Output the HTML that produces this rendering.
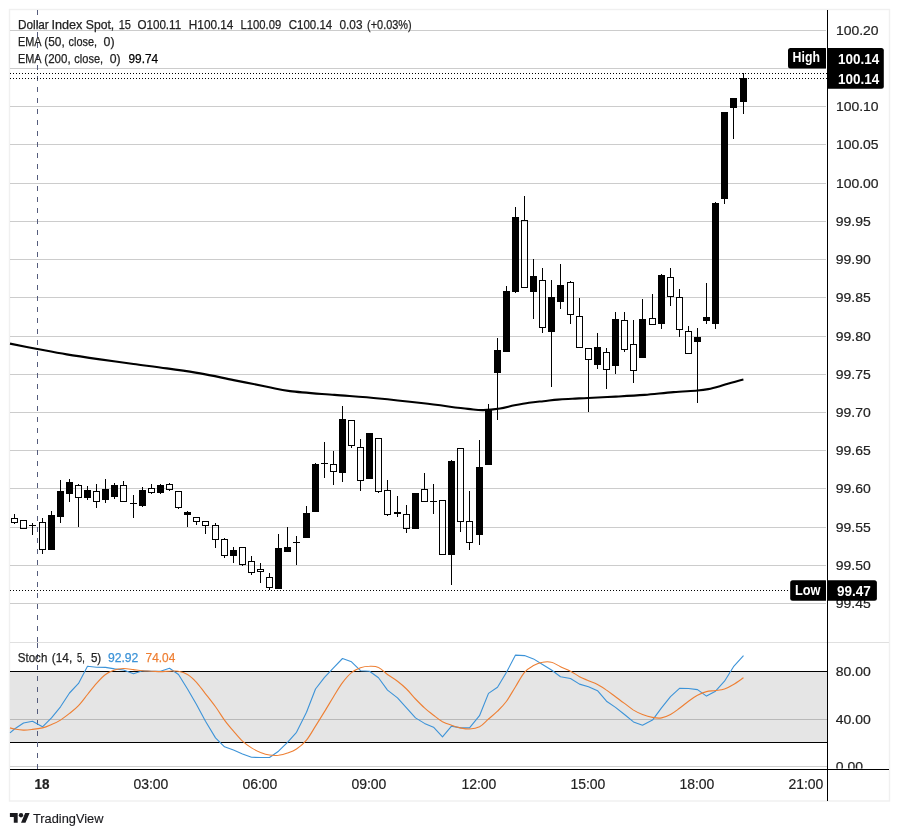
<!DOCTYPE html>
<html lang="en"><head><meta charset="utf-8"><title>Dollar Index Spot, 15 - TradingView</title>
<style>
html,body{margin:0;padding:0;background:#fff;}
body{width:899px;height:836px;overflow:hidden;}
svg{display:block;}
text{font-family:"Liberation Sans", Arial, sans-serif;}
.ax{font-size:13.5px;fill:#222222;stroke:#222222;stroke-width:0.2px;}
.lg{font-size:13px;fill:#222222;stroke:#222222;stroke-width:0.25px;}
.lb{font-size:14px;font-weight:bold;fill:#fff;}
.cr{shape-rendering:crispEdges;}
</style></head><body>
<svg width="899" height="836" viewBox="0 0 899 836">
<rect x="0" y="0" width="899" height="836" fill="#fff"/>
<rect x="9.5" y="9.5" width="880" height="791.5" fill="#fff" stroke="#f0f0f0" stroke-width="1.4"/>
<rect class="cr" x="10" y="30" width="816" height="1" fill="#cccccc"/>
<rect class="cr" x="10" y="68" width="816" height="1" fill="#cccccc"/>
<rect class="cr" x="10" y="106" width="816" height="1" fill="#cccccc"/>
<rect class="cr" x="10" y="144" width="816" height="1" fill="#cccccc"/>
<rect class="cr" x="10" y="183" width="816" height="1" fill="#cccccc"/>
<rect class="cr" x="10" y="221" width="816" height="1" fill="#cccccc"/>
<rect class="cr" x="10" y="259" width="816" height="1" fill="#cccccc"/>
<rect class="cr" x="10" y="297" width="816" height="1" fill="#cccccc"/>
<rect class="cr" x="10" y="336" width="816" height="1" fill="#cccccc"/>
<rect class="cr" x="10" y="374" width="816" height="1" fill="#cccccc"/>
<rect class="cr" x="10" y="412" width="816" height="1" fill="#cccccc"/>
<rect class="cr" x="10" y="450" width="816" height="1" fill="#cccccc"/>
<rect class="cr" x="10" y="488" width="816" height="1" fill="#cccccc"/>
<rect class="cr" x="10" y="527" width="816" height="1" fill="#cccccc"/>
<rect class="cr" x="10" y="565" width="816" height="1" fill="#cccccc"/>
<rect class="cr" x="10" y="603" width="816" height="1" fill="#cccccc"/>
<rect class="cr" x="10" y="642" width="879" height="1" fill="#e0e0e0"/>
<rect class="cr" x="10" y="672" width="817" height="70" fill="#e5e5e5"/>
<rect class="cr" x="10" y="719" width="817" height="1" fill="#b9b9b9"/>
<rect class="cr" x="10" y="766" width="817" height="1" fill="#cfcfcf"/>
<rect class="cr" x="10" y="671" width="817" height="1" fill="#000"/>
<rect class="cr" x="10" y="742" width="817" height="1" fill="#000"/>
<line class="cr" x1="37.5" y1="10" x2="37.5" y2="642" stroke="#555c7c" stroke-width="1" stroke-dasharray="5 6"/>
<line class="cr" x1="37.5" y1="643" x2="37.5" y2="769" stroke="#555c7c" stroke-width="1" stroke-dasharray="5 6"/>
<line class="cr" x1="10" y1="73.5" x2="827" y2="73.5" stroke="#000" stroke-width="1" stroke-dasharray="1 2"/>
<line class="cr" x1="10" y1="78.5" x2="827" y2="78.5" stroke="#000" stroke-width="1" stroke-dasharray="1 2"/>
<line class="cr" x1="10" y1="590.5" x2="790" y2="590.5" stroke="#000" stroke-width="1" stroke-dasharray="1 2"/>
<path fill="none" stroke="#000" stroke-width="2.1" stroke-linejoin="round" stroke-linecap="butt" d="M10.0 343.6 C14.6 344.5 27.9 347.2 37.4 349.0 C46.9 350.8 56.2 352.7 66.7 354.4 C77.2 356.1 89.0 357.8 100.1 359.4 C111.2 361.0 122.4 362.5 133.5 364.0 C144.6 365.5 155.7 366.8 166.8 368.4 C177.9 370.0 189.1 371.4 200.2 373.4 C211.3 375.3 222.5 377.9 233.6 380.1 C244.7 382.3 257.5 384.9 266.9 386.7 C276.3 388.5 278.7 389.7 290.0 391.1 C301.3 392.5 319.7 393.7 334.5 394.9 C349.3 396.1 364.2 397.1 379.0 398.5 C393.8 399.9 408.7 401.6 423.5 403.3 C438.3 405.0 458.0 407.8 468.0 408.9 C478.0 410.0 478.0 410.2 483.3 410.1 C488.6 410.0 494.8 409.3 500.0 408.5 C505.2 407.7 509.7 406.2 514.5 405.3 C519.3 404.4 524.1 403.5 528.9 402.8 C533.7 402.1 538.6 401.7 543.4 401.2 C548.2 400.7 553.0 400.0 557.8 399.6 C562.6 399.2 567.2 399.0 572.3 398.7 C577.4 398.4 581.0 398.4 588.2 398.0 C595.4 397.6 606.3 397.1 615.7 396.6 C625.1 396.1 635.0 395.6 644.6 394.9 C654.2 394.1 664.7 392.8 673.5 392.1 C682.3 391.4 691.7 391.0 697.5 390.5 C703.3 390.0 704.5 389.8 708.2 389.1 C711.9 388.4 715.9 387.3 719.8 386.2 C723.6 385.1 727.4 383.8 731.3 382.7 C735.2 381.6 741.4 379.9 743.4 379.4"/>
<g class="cr" fill="#000">
<rect x="14" y="514" width="1" height="4"/>
<rect x="14" y="523" width="1" height="1"/>
<rect x="11.5" y="518.5" width="6" height="4" fill="none" stroke="#000" stroke-width="1"/>
<rect x="20.5" y="520.5" width="6" height="8" fill="none" stroke="#000" stroke-width="1"/>
<rect x="32" y="523" width="1" height="12"/>
<rect x="29" y="525" width="7" height="1"/>
<rect x="42" y="518" width="1" height="4"/>
<rect x="42" y="550" width="1" height="4"/>
<rect x="39.5" y="522.5" width="6" height="27" fill="none" stroke="#000" stroke-width="1"/>
<rect x="51" y="511" width="1" height="39"/>
<rect x="48" y="515" width="7" height="35"/>
<rect x="60" y="480" width="1" height="43"/>
<rect x="57" y="491" width="7" height="26"/>
<rect x="69" y="479" width="1" height="23"/>
<rect x="66" y="482" width="7" height="12"/>
<rect x="78" y="484" width="1" height="1"/>
<rect x="78" y="498" width="1" height="29"/>
<rect x="75.5" y="485.5" width="6" height="12" fill="none" stroke="#000" stroke-width="1"/>
<rect x="87" y="486" width="1" height="14"/>
<rect x="84" y="490" width="7" height="8"/>
<rect x="96" y="484" width="1" height="7"/>
<rect x="96" y="502" width="1" height="6"/>
<rect x="93.5" y="491.5" width="6" height="10" fill="none" stroke="#000" stroke-width="1"/>
<rect x="105" y="479" width="1" height="24"/>
<rect x="102" y="489" width="7" height="11"/>
<rect x="114" y="483" width="1" height="16"/>
<rect x="111" y="485" width="7" height="12"/>
<rect x="123" y="481" width="1" height="4"/>
<rect x="120.5" y="485.5" width="6" height="16" fill="none" stroke="#000" stroke-width="1"/>
<rect x="133" y="495" width="1" height="23"/>
<rect x="130" y="503" width="7" height="1"/>
<rect x="142" y="487" width="1" height="20"/>
<rect x="139" y="490" width="7" height="16"/>
<rect x="151" y="484" width="1" height="4"/>
<rect x="151" y="493" width="1" height="1"/>
<rect x="148.5" y="488.5" width="6" height="4" fill="none" stroke="#000" stroke-width="1"/>
<rect x="160" y="484" width="1" height="10"/>
<rect x="157" y="485" width="7" height="8"/>
<rect x="169" y="483" width="1" height="1"/>
<rect x="169" y="490" width="1" height="1"/>
<rect x="166.5" y="484.5" width="6" height="5" fill="none" stroke="#000" stroke-width="1"/>
<rect x="178" y="508" width="1" height="1"/>
<rect x="175.5" y="491.5" width="6" height="16" fill="none" stroke="#000" stroke-width="1"/>
<rect x="187" y="511" width="1" height="16"/>
<rect x="184" y="512" width="7" height="3"/>
<rect x="196" y="522" width="1" height="3"/>
<rect x="193.5" y="517.5" width="6" height="4" fill="none" stroke="#000" stroke-width="1"/>
<rect x="205" y="526" width="1" height="8"/>
<rect x="202.5" y="521.5" width="6" height="4" fill="none" stroke="#000" stroke-width="1"/>
<rect x="215" y="523" width="1" height="2"/>
<rect x="215" y="540" width="1" height="8"/>
<rect x="212.5" y="525.5" width="6" height="14" fill="none" stroke="#000" stroke-width="1"/>
<rect x="224" y="538" width="1" height="1"/>
<rect x="224" y="556" width="1" height="2"/>
<rect x="221.5" y="539.5" width="6" height="16" fill="none" stroke="#000" stroke-width="1"/>
<rect x="233" y="547" width="1" height="16"/>
<rect x="230" y="550" width="7" height="6"/>
<rect x="242" y="565" width="1" height="1"/>
<rect x="239.5" y="547.5" width="6" height="17" fill="none" stroke="#000" stroke-width="1"/>
<rect x="251" y="556" width="1" height="5"/>
<rect x="251" y="573" width="1" height="2"/>
<rect x="248.5" y="561.5" width="6" height="11" fill="none" stroke="#000" stroke-width="1"/>
<rect x="260" y="563" width="1" height="6"/>
<rect x="260" y="572" width="1" height="11"/>
<rect x="257.5" y="569.5" width="6" height="2" fill="none" stroke="#000" stroke-width="1"/>
<rect x="269" y="573" width="1" height="4"/>
<rect x="269" y="588" width="1" height="2"/>
<rect x="266.5" y="577.5" width="6" height="10" fill="none" stroke="#000" stroke-width="1"/>
<rect x="278" y="534" width="1" height="55"/>
<rect x="275" y="548" width="7" height="41"/>
<rect x="287" y="527" width="1" height="25"/>
<rect x="284" y="547" width="7" height="5"/>
<rect x="296" y="536" width="1" height="29"/>
<rect x="293" y="542" width="7" height="1"/>
<rect x="306" y="506" width="1" height="32"/>
<rect x="303" y="513" width="7" height="25"/>
<rect x="315" y="463" width="1" height="49"/>
<rect x="312" y="464" width="7" height="48"/>
<rect x="324" y="442" width="1" height="36"/>
<rect x="321" y="463" width="7" height="1"/>
<rect x="333" y="451" width="1" height="13"/>
<rect x="333" y="472" width="1" height="13"/>
<rect x="330.5" y="464.5" width="6" height="7" fill="none" stroke="#000" stroke-width="1"/>
<rect x="342" y="406" width="1" height="76"/>
<rect x="339" y="419" width="7" height="54"/>
<rect x="351" y="446" width="1" height="2"/>
<rect x="348.5" y="420.5" width="6" height="25" fill="none" stroke="#000" stroke-width="1"/>
<rect x="360" y="439" width="1" height="8"/>
<rect x="360" y="481" width="1" height="10"/>
<rect x="357.5" y="447.5" width="6" height="33" fill="none" stroke="#000" stroke-width="1"/>
<rect x="369" y="433" width="1" height="46"/>
<rect x="366" y="433" width="7" height="46"/>
<rect x="378" y="492" width="1" height="1"/>
<rect x="375.5" y="438.5" width="6" height="53" fill="none" stroke="#000" stroke-width="1"/>
<rect x="387" y="480" width="1" height="10"/>
<rect x="387" y="515" width="1" height="1"/>
<rect x="384.5" y="490.5" width="6" height="24" fill="none" stroke="#000" stroke-width="1"/>
<rect x="397" y="496" width="1" height="21"/>
<rect x="394" y="512" width="7" height="2"/>
<rect x="406" y="505" width="1" height="9"/>
<rect x="406" y="529" width="1" height="4"/>
<rect x="403.5" y="514.5" width="6" height="14" fill="none" stroke="#000" stroke-width="1"/>
<rect x="415" y="493" width="1" height="36"/>
<rect x="412" y="493" width="7" height="36"/>
<rect x="424" y="473" width="1" height="16"/>
<rect x="421.5" y="489.5" width="6" height="12" fill="none" stroke="#000" stroke-width="1"/>
<rect x="433" y="484" width="1" height="30"/>
<rect x="430" y="501" width="7" height="1"/>
<rect x="439.5" y="500.5" width="6" height="54" fill="none" stroke="#000" stroke-width="1"/>
<rect x="451" y="460" width="1" height="125"/>
<rect x="448" y="461" width="7" height="94"/>
<rect x="460" y="522" width="1" height="10"/>
<rect x="457.5" y="448.5" width="6" height="73" fill="none" stroke="#000" stroke-width="1"/>
<rect x="469" y="491" width="1" height="30"/>
<rect x="469" y="543" width="1" height="7"/>
<rect x="466.5" y="521.5" width="6" height="21" fill="none" stroke="#000" stroke-width="1"/>
<rect x="479" y="440" width="1" height="105"/>
<rect x="476" y="467" width="7" height="68"/>
<rect x="488" y="404" width="1" height="61"/>
<rect x="485" y="410" width="7" height="55"/>
<rect x="497" y="338" width="1" height="82"/>
<rect x="494" y="350" width="7" height="23"/>
<rect x="506" y="286" width="1" height="66"/>
<rect x="503" y="291" width="7" height="61"/>
<rect x="515" y="207" width="1" height="86"/>
<rect x="512" y="217" width="7" height="75"/>
<rect x="524" y="196" width="1" height="24"/>
<rect x="521.5" y="220.5" width="6" height="67" fill="none" stroke="#000" stroke-width="1"/>
<rect x="533" y="259" width="1" height="60"/>
<rect x="530" y="276" width="7" height="16"/>
<rect x="542" y="268" width="1" height="12"/>
<rect x="542" y="328" width="1" height="5"/>
<rect x="539.5" y="280.5" width="6" height="47" fill="none" stroke="#000" stroke-width="1"/>
<rect x="551" y="280" width="1" height="107"/>
<rect x="548" y="297" width="7" height="35"/>
<rect x="560" y="264" width="1" height="45"/>
<rect x="557" y="285" width="7" height="17"/>
<rect x="570" y="281" width="1" height="1"/>
<rect x="570" y="315" width="1" height="9"/>
<rect x="567.5" y="282.5" width="6" height="32" fill="none" stroke="#000" stroke-width="1"/>
<rect x="579" y="298" width="1" height="18"/>
<rect x="576.5" y="316.5" width="6" height="31" fill="none" stroke="#000" stroke-width="1"/>
<rect x="588" y="360" width="1" height="52"/>
<rect x="585.5" y="348.5" width="6" height="11" fill="none" stroke="#000" stroke-width="1"/>
<rect x="597" y="333" width="1" height="36"/>
<rect x="594" y="347" width="7" height="18"/>
<rect x="606" y="348" width="1" height="4"/>
<rect x="606" y="370" width="1" height="19"/>
<rect x="603.5" y="352.5" width="6" height="17" fill="none" stroke="#000" stroke-width="1"/>
<rect x="615" y="312" width="1" height="62"/>
<rect x="612" y="319" width="7" height="47"/>
<rect x="624" y="312" width="1" height="8"/>
<rect x="624" y="350" width="1" height="2"/>
<rect x="621.5" y="320.5" width="6" height="29" fill="none" stroke="#000" stroke-width="1"/>
<rect x="633" y="320" width="1" height="24"/>
<rect x="633" y="371" width="1" height="12"/>
<rect x="630.5" y="344.5" width="6" height="26" fill="none" stroke="#000" stroke-width="1"/>
<rect x="642" y="299" width="1" height="59"/>
<rect x="639" y="319" width="7" height="39"/>
<rect x="652" y="294" width="1" height="24"/>
<rect x="649.5" y="318.5" width="6" height="6" fill="none" stroke="#000" stroke-width="1"/>
<rect x="661" y="274" width="1" height="55"/>
<rect x="658" y="275" width="7" height="49"/>
<rect x="670" y="268" width="1" height="9"/>
<rect x="670" y="297" width="1" height="9"/>
<rect x="667.5" y="277.5" width="6" height="19" fill="none" stroke="#000" stroke-width="1"/>
<rect x="679" y="289" width="1" height="8"/>
<rect x="679" y="330" width="1" height="7"/>
<rect x="676.5" y="297.5" width="6" height="32" fill="none" stroke="#000" stroke-width="1"/>
<rect x="688" y="326" width="1" height="5"/>
<rect x="685.5" y="331.5" width="6" height="22" fill="none" stroke="#000" stroke-width="1"/>
<rect x="697" y="328" width="1" height="75"/>
<rect x="694" y="337" width="7" height="5"/>
<rect x="706" y="283" width="1" height="41"/>
<rect x="703" y="317" width="7" height="4"/>
<rect x="715" y="202" width="1" height="127"/>
<rect x="712" y="203" width="7" height="121"/>
<rect x="724" y="112" width="1" height="92"/>
<rect x="721" y="112" width="7" height="87"/>
<rect x="733" y="98" width="1" height="41"/>
<rect x="730" y="98" width="7" height="10"/>
<rect x="743" y="73" width="1" height="41"/>
<rect x="740" y="78" width="7" height="24"/>
</g>
<polyline fill="none" stroke="#3c93d8" stroke-width="1.1" stroke-linejoin="round" points="10.0,732.8 14.5,729.0 23.5,723.0 32.5,721.2 42.5,726.8 51.5,717.9 60.5,706.8 69.5,693.0 78.5,683.4 87.5,666.3 96.5,667.2 105.5,667.4 114.5,668.9 123.5,670.0 133.5,673.8 142.5,670.7 151.5,671.2 160.5,671.2 169.5,668.3 178.5,674.5 187.5,689.0 196.5,704.5 205.5,721.2 215.5,737.9 224.5,746.8 233.5,750.1 242.5,753.9 251.5,757.3 260.5,757.5 269.5,757.5 278.5,751.2 287.5,742.3 296.5,732.3 306.5,712.3 315.5,689.0 324.5,677.4 333.5,667.8 342.5,658.5 351.5,661.8 360.5,670.7 369.5,671.2 378.5,677.8 387.5,690.1 397.5,697.9 406.5,707.9 415.5,717.9 424.5,723.4 433.5,727.2 442.5,736.8 451.5,726.1 460.5,727.9 469.5,727.9 479.5,715.7 488.5,693.4 497.5,687.2 506.5,672.3 515.5,655.1 524.5,655.6 533.5,658.9 542.5,664.5 551.5,670.0 560.5,676.7 570.5,678.5 579.5,684.1 588.5,686.7 597.5,690.7 606.5,701.2 615.5,707.4 624.5,714.5 633.5,721.9 642.5,725.2 652.5,720.1 661.5,707.9 670.5,696.7 679.5,688.3 688.5,688.5 697.5,689.6 706.5,696.1 715.5,691.2 724.5,681.2 733.5,666.7 743.5,655.6"/>
<path fill="none" stroke="#ee7f33" stroke-width="1.1" stroke-linejoin="round" d="M10.0 727.9 C10.8 728.1 12.2 728.6 14.5 729.0 C16.8 729.4 20.5 730.0 23.5 730.1 C26.5 730.2 29.3 729.8 32.5 729.4 C35.7 729.1 39.3 728.7 42.5 727.9 C45.7 727.1 48.5 725.8 51.5 724.5 C54.5 723.3 57.5 722.0 60.5 720.1 C63.5 718.2 66.5 715.8 69.5 713.4 C72.5 711.0 75.5 708.8 78.5 705.6 C81.5 702.5 84.5 698.2 87.5 694.5 C90.5 690.8 93.5 686.7 96.5 683.4 C99.5 680.1 102.5 676.7 105.5 674.5 C108.5 672.3 111.5 671.0 114.5 670.0 C117.5 669.0 120.3 668.6 123.5 668.5 C126.7 668.4 130.3 669.2 133.5 669.6 C136.7 670.0 139.5 670.5 142.5 670.7 C145.5 671.0 148.5 671.0 151.5 671.2 C154.5 671.3 157.5 671.6 160.5 671.6 C163.5 671.6 166.5 671.2 169.5 671.2 C172.5 671.1 175.5 670.6 178.5 671.2 C181.5 671.7 184.5 672.6 187.5 674.5 C190.5 676.3 193.5 679.1 196.5 682.3 C199.5 685.5 202.3 689.8 205.5 693.8 C208.7 697.9 212.3 702.4 215.5 706.8 C218.7 711.1 221.5 716.0 224.5 720.1 C227.5 724.2 230.5 727.7 233.5 731.2 C236.5 734.7 239.5 738.5 242.5 741.2 C245.5 744.0 248.5 746.1 251.5 747.9 C254.5 749.8 257.5 751.2 260.5 752.4 C263.5 753.5 266.5 754.5 269.5 755.0 C272.5 755.5 275.5 755.6 278.5 755.3 C281.5 754.9 284.5 754.1 287.5 753.0 C290.5 752.0 293.3 751.2 296.5 749.0 C299.7 746.9 303.3 743.9 306.5 740.1 C309.7 736.3 312.5 730.9 315.5 726.1 C318.5 721.4 321.5 716.5 324.5 711.6 C327.5 706.8 330.5 701.6 333.5 696.7 C336.5 691.9 339.5 686.7 342.5 682.7 C345.5 678.7 348.5 675.2 351.5 672.7 C354.5 670.2 357.5 668.9 360.5 667.8 C363.5 666.7 366.5 666.3 369.5 666.3 C372.5 666.2 375.5 666.0 378.5 667.4 C381.5 668.7 384.3 672.2 387.5 674.5 C390.7 676.8 394.3 678.8 397.5 681.2 C400.7 683.6 403.5 686.0 406.5 689.0 C409.5 691.9 412.5 695.8 415.5 699.0 C418.5 702.1 421.5 705.2 424.5 707.9 C427.5 710.6 430.5 712.9 433.5 715.2 C436.5 717.5 439.5 720.0 442.5 721.7 C445.5 723.3 448.5 724.2 451.5 725.2 C454.5 726.3 457.5 727.3 460.5 727.9 C463.5 728.5 466.3 729.2 469.5 729.0 C472.7 728.8 476.3 728.4 479.5 726.8 C482.7 725.1 485.5 721.6 488.5 719.0 C491.5 716.4 494.5 714.2 497.5 711.2 C500.5 708.2 503.5 705.3 506.5 701.2 C509.5 697.1 512.5 691.5 515.5 686.7 C518.5 681.9 521.5 675.8 524.5 672.3 C527.5 668.7 530.5 667.3 533.5 665.6 C536.5 663.9 539.5 662.8 542.5 662.3 C545.5 661.7 548.5 661.5 551.5 662.3 C554.5 663.0 557.3 665.2 560.5 666.7 C563.7 668.2 567.3 669.5 570.5 671.2 C573.7 672.8 576.5 675.1 579.5 676.7 C582.5 678.3 585.5 679.4 588.5 680.7 C591.5 682.0 594.5 682.9 597.5 684.5 C600.5 686.1 603.5 688.0 606.5 690.1 C609.5 692.1 612.5 694.5 615.5 696.7 C618.5 699.0 621.5 701.2 624.5 703.4 C627.5 705.6 630.5 708.2 633.5 710.1 C636.5 711.9 639.3 713.3 642.5 714.5 C645.7 715.8 649.3 716.9 652.5 717.4 C655.7 718.0 658.5 718.4 661.5 717.9 C664.5 717.4 667.5 716.1 670.5 714.5 C673.5 712.9 676.5 710.5 679.5 708.3 C682.5 706.1 685.5 703.4 688.5 701.2 C691.5 699.0 694.5 696.8 697.5 695.2 C700.5 693.6 703.5 692.4 706.5 691.6 C709.5 690.8 712.5 691.0 715.5 690.5 C718.5 690.1 721.5 690.0 724.5 689.0 C727.5 688.0 730.3 686.4 733.5 684.5 C736.7 682.7 741.8 678.9 743.5 677.8"/>
<text x="836.0" y="35.0" class="ax" textLength="42.6" lengthAdjust="spacingAndGlyphs">100.20</text>
<text x="836.0" y="111.0" class="ax" textLength="42.6" lengthAdjust="spacingAndGlyphs">100.10</text>
<text x="836.0" y="149.0" class="ax" textLength="42.6" lengthAdjust="spacingAndGlyphs">100.05</text>
<text x="836.0" y="188.0" class="ax" textLength="42.6" lengthAdjust="spacingAndGlyphs">100.00</text>
<text x="835.8" y="226.0" class="ax" textLength="35.0" lengthAdjust="spacingAndGlyphs">99.95</text>
<text x="835.8" y="264.0" class="ax" textLength="35.0" lengthAdjust="spacingAndGlyphs">99.90</text>
<text x="835.8" y="302.0" class="ax" textLength="35.0" lengthAdjust="spacingAndGlyphs">99.85</text>
<text x="835.8" y="341.0" class="ax" textLength="35.0" lengthAdjust="spacingAndGlyphs">99.80</text>
<text x="835.8" y="379.0" class="ax" textLength="35.0" lengthAdjust="spacingAndGlyphs">99.75</text>
<text x="835.8" y="417.0" class="ax" textLength="35.0" lengthAdjust="spacingAndGlyphs">99.70</text>
<text x="835.8" y="455.0" class="ax" textLength="35.0" lengthAdjust="spacingAndGlyphs">99.65</text>
<text x="835.8" y="493.0" class="ax" textLength="35.0" lengthAdjust="spacingAndGlyphs">99.60</text>
<text x="835.8" y="532.0" class="ax" textLength="35.0" lengthAdjust="spacingAndGlyphs">99.55</text>
<text x="835.8" y="570.0" class="ax" textLength="35.0" lengthAdjust="spacingAndGlyphs">99.50</text>
<text x="835.8" y="608.0" class="ax" textLength="35.0" lengthAdjust="spacingAndGlyphs">99.45</text>
<text x="835.8" y="676.0" class="ax" textLength="35.0" lengthAdjust="spacingAndGlyphs">80.00</text>
<text x="835.8" y="724.0" class="ax" textLength="35.0" lengthAdjust="spacingAndGlyphs">40.00</text>
<clipPath id="c0"><rect x="827" y="750" width="62" height="18.4"/></clipPath>
<g clip-path="url(#c0)">
<text x="835.8" y="771.0" class="ax" textLength="27.2" lengthAdjust="spacingAndGlyphs">0.00</text>
</g>
<path fill="#000" d="M790.5 48.0 H825.5 Q826.0 48.0 826.0 48.5 V68.1 Q826.0 68.6 825.5 68.6 H790.5 Q788.0 68.6 788.0 66.1 V50.5 Q788.0 48.0 790.5 48.0 Z"/>
<path fill="#000" d="M827.0 48.0 H881.3 Q883.8 48.0 883.8 50.5 V86.2 Q883.8 88.7 881.3 88.7 H827.0 Q827.0 88.7 827.0 88.7 V48.0 Q827.0 48.0 827.0 48.0 Z"/>
<text x="792.6" y="62.0" class="lb" textLength="27.3" lengthAdjust="spacingAndGlyphs">High</text>
<text x="838.0" y="64.0" class="lb" textLength="41.2" lengthAdjust="spacingAndGlyphs">100.14</text>
<text x="838.0" y="84.0" class="lb" textLength="41.2" lengthAdjust="spacingAndGlyphs">100.14</text>
<path fill="#000" d="M792.7 580.2 H825.5 Q826.0 580.2 826.0 580.7 V600.3 Q826.0 600.8 825.5 600.8 H792.7 Q790.2 600.8 790.2 598.3 V582.7 Q790.2 580.2 792.7 580.2 Z"/>
<path fill="#000" d="M827.0 580.2 H874.4 Q876.9 580.2 876.9 582.7 V598.3 Q876.9 600.8 874.4 600.8 H827.0 Q827.0 600.8 827.0 600.8 V580.2 Q827.0 580.2 827.0 580.2 Z"/>
<text x="795.0" y="595.0" class="lb" textLength="25.5" lengthAdjust="spacingAndGlyphs">Low</text>
<text x="837.0" y="596.0" class="lb" textLength="33.9" lengthAdjust="spacingAndGlyphs">99.47</text>
<rect class="cr" x="827" y="10" width="1" height="791" fill="#000"/>
<rect class="cr" x="10" y="769" width="879" height="1" fill="#000"/>
<text x="41.9" y="789" class="ax" style="font-weight:bold;font-size:14.7px" text-anchor="middle" textLength="15.0" lengthAdjust="spacingAndGlyphs">18</text>
<text x="150.9" y="789" class="ax" style="font-size:14.7px" text-anchor="middle" textLength="35.0" lengthAdjust="spacingAndGlyphs">03:00</text>
<text x="259.9" y="789" class="ax" style="font-size:14.7px" text-anchor="middle" textLength="35.0" lengthAdjust="spacingAndGlyphs">06:00</text>
<text x="368.9" y="789" class="ax" style="font-size:14.7px" text-anchor="middle" textLength="35.0" lengthAdjust="spacingAndGlyphs">09:00</text>
<text x="478.9" y="789" class="ax" style="font-size:14.7px" text-anchor="middle" textLength="35.0" lengthAdjust="spacingAndGlyphs">12:00</text>
<text x="587.9" y="789" class="ax" style="font-size:14.7px" text-anchor="middle" textLength="35.0" lengthAdjust="spacingAndGlyphs">15:00</text>
<text x="696.9" y="789" class="ax" style="font-size:14.7px" text-anchor="middle" textLength="35.0" lengthAdjust="spacingAndGlyphs">18:00</text>
<text x="805.9" y="789" class="ax" style="font-size:14.7px" text-anchor="middle" textLength="35.0" lengthAdjust="spacingAndGlyphs">21:00</text>
<text y="29.0" class="lg"><tspan x="18.0" textLength="30.8" lengthAdjust="spacingAndGlyphs">Dollar</tspan> <tspan x="51.4" textLength="31.0" lengthAdjust="spacingAndGlyphs">Index</tspan> <tspan x="85.8" textLength="28.4" lengthAdjust="spacingAndGlyphs">Spot,</tspan> <tspan x="118.7" textLength="12.3" lengthAdjust="spacingAndGlyphs">15</tspan> <tspan x="137.4" textLength="43.8" lengthAdjust="spacingAndGlyphs">O100.11</tspan> <tspan x="188.8" textLength="44.6" lengthAdjust="spacingAndGlyphs">H100.14</tspan> <tspan x="240.5" textLength="40.7" lengthAdjust="spacingAndGlyphs">L100.09</tspan> <tspan x="288.8" textLength="43.4" lengthAdjust="spacingAndGlyphs">C100.14</tspan> <tspan x="339.5" textLength="23.0" lengthAdjust="spacingAndGlyphs">0.03</tspan> <tspan x="367.1" textLength="44.5" lengthAdjust="spacingAndGlyphs">(+0.03%)</tspan></text>
<text y="46.0" class="lg"><tspan x="17.9" textLength="23.0" lengthAdjust="spacingAndGlyphs">EMA</tspan> <tspan x="44.3" textLength="20.5" lengthAdjust="spacingAndGlyphs">(50,</tspan> <tspan x="68.5" textLength="28.5" lengthAdjust="spacingAndGlyphs">close,</tspan> <tspan x="103.5" textLength="11.0" lengthAdjust="spacingAndGlyphs">0)</tspan></text>
<text y="63.0" class="lg"><tspan x="17.9" textLength="23.0" lengthAdjust="spacingAndGlyphs">EMA</tspan> <tspan x="44.3" textLength="26.3" lengthAdjust="spacingAndGlyphs">(200,</tspan> <tspan x="74.3" textLength="28.8" lengthAdjust="spacingAndGlyphs">close,</tspan> <tspan x="109.8" textLength="10.9" lengthAdjust="spacingAndGlyphs">0)</tspan> <tspan x="128.5" textLength="29.7" lengthAdjust="spacingAndGlyphs" style="fill:#000;stroke:#000">99.74</tspan></text>
<text y="662.0" class="lg"><tspan x="17.8" textLength="29.5" lengthAdjust="spacingAndGlyphs">Stoch</tspan> <tspan x="51.8" textLength="20.4" lengthAdjust="spacingAndGlyphs">(14,</tspan> <tspan x="77.1" textLength="7.7" lengthAdjust="spacingAndGlyphs">5,</tspan> <tspan x="90.9" textLength="10.3" lengthAdjust="spacingAndGlyphs">5)</tspan> <tspan x="107.9" textLength="30.5" lengthAdjust="spacingAndGlyphs" style="fill:#3c93d8;stroke:#3c93d8">92.92</tspan> <tspan x="145.6" textLength="29.7" lengthAdjust="spacingAndGlyphs" style="fill:#ee7f33;stroke:#ee7f33">74.04</tspan></text>
<g transform="translate(9.9,810.95) scale(0.556,0.54)" fill="#1a1a1e">
<path d="M14 22H7V11H0V4h14v18zM28 22h-8l7.5-18h8L28 22z"/><circle cx="20" cy="8" r="4"/>
</g>
<text x="33.0" y="823" style="font-size:12.6px;fill:#1a1a1e;stroke:#1a1a1e;stroke-width:0.15px" textLength="70.4" lengthAdjust="spacingAndGlyphs">TradingView</text>
</svg>
</body></html>
